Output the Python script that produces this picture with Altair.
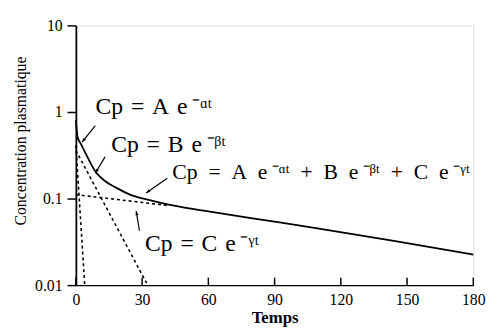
import altair as alt
import pandas as pd

# Total plasma concentration curve
total_t = [0, 0.8, 2.2, 5.2, 8.9, 12.6, 18.6, 24.5, 33.4, 42, 50, 60, 80, 108, 144, 180]
total_v = [0.80, 0.51, 0.43, 0.303, 0.204, 0.164, 0.132, 0.111, 0.0957, 0.085, 0.078, 0.071, 0.059, 0.046, 0.0325, 0.0225]

# Components (straight lines on log scale)
a_t = [0, 4.0]
a_v = [0.41, 0.01]
b_t = [0, 32.5]
b_v = [0.36, 0.01]
c_t = [0, 42]
c_v = [0.111, 0.083]

# Annotation labels
S = "\u2002"   # en space
M = "\u2004"   # three-per-em space
T = "\u2009"   # thin space
label_text = [
    f"Cp{M}={M}A{M}e{T}⁻ᵅᵗ",
    f"Cp{M}={M}B{M}e{T}⁻ᵝᵗ",
    f"Cp{S}={S}A{S}e{T}⁻ᵅᵗ{S}+{S}B{S}e{T}⁻ᵝᵗ{S}+{S}C{S}e{T}⁻ᵞᵗ",
    f"Cp{M}={M}C{M}e{T}⁻ᵞᵗ",
]
label_size = [24, 24, 22, 24]
label_t = [8.9, 16.0, 43.7, 31.3]
label_v = [0.949, 0.342, 0.1667, 0.025]

# Arrows: start -> end
arrow_t1 = [8.8, 13.2, 41.4, 28.8]
arrow_v1 = [0.694, 0.303, 0.172, 0.0425]
arrow_t2 = [2.8, 8.8, 31.8, 27.3]
arrow_v2 = [0.448, 0.196, 0.116, 0.0718]
arrow_angle = [218.7, 211.0, 235.4, 349.2]

x_ticks = [0, 30, 60, 90, 120, 150, 180]
y_ticks = [0.01, 0.1, 1, 10]

FONT = "Liberation Serif"

xs = alt.Scale(domain=[0, 180], nice=False)
ys = alt.Scale(type="log", domain=[0.01, 10], nice=False)

total_df = pd.DataFrame({"t": total_t, "v": total_v})
comp_df = pd.concat([
    pd.DataFrame({"t": a_t, "v": a_v, "c": "A"}),
    pd.DataFrame({"t": b_t, "v": b_v, "c": "B"}),
    pd.DataFrame({"t": c_t, "v": c_v, "c": "C"}),
])
lab_df = pd.DataFrame({"t": label_t, "v": label_v, "txt": label_text, "fs": label_size})
arr_df = pd.DataFrame({"t1": arrow_t1, "v1": arrow_v1, "t2": arrow_t2, "v2": arrow_v2, "ang": arrow_angle})
tick_df = pd.DataFrame({"t": x_ticks, "lo": 0.01, "hi": 0.0122})

x_enc = alt.X("t:Q", scale=xs, axis=alt.Axis(
    title="Temps", values=x_ticks, ticks=False, labelPadding=7, labelFontSize=16,
    labelFont=FONT, titleFont=FONT, titleFontSize=17, titleFontWeight="bold",
    titlePadding=2, domainColor="black", domainWidth=1.5, labelColor="black",
    titleColor="black", grid=False, labelFlush=False))
y_enc = alt.Y("v:Q", scale=ys, axis=alt.Axis(
    title="Concentration plasmatique", values=y_ticks, tickSize=9, labelPadding=5,
    labelFontSize=16, labelFont=FONT, titleFont=FONT, titleFontSize=16,
    titleFontWeight="normal", labelExpr="datum.value >= 1 ? format(datum.value, 'd') : format(datum.value, '.2~f')",
    domainColor="black", domainWidth=1.8, tickColor="black", tickWidth=1.5,
    labelColor="black", titleColor="black", grid=False, titleX=-56, titleY=117,
    titleAngle=270, titleBaseline="middle", titleAlign="center"))

total_line = alt.Chart(total_df).mark_line(color="black", strokeWidth=1.8, interpolate="monotone").encode(
    x=x_enc, y=y_enc)

comp_lines = alt.Chart(comp_df).mark_line(color="black", strokeWidth=1.6, strokeDash=[3, 3]).encode(
    x=alt.X("t:Q", scale=xs), y=alt.Y("v:Q", scale=ys), detail="c:N")

labels = alt.Chart(lab_df).mark_text(align="left", baseline="alphabetic", font=FONT,
                                     color="black").encode(
    x=alt.X("t:Q", scale=xs), y=alt.Y("v:Q", scale=ys), text="txt:N",
    size=alt.Size("fs:Q", scale=None, legend=None))

arrows = alt.Chart(arr_df).mark_rule(color="black", strokeWidth=1.2).encode(
    x=alt.X("t1:Q", scale=xs), y=alt.Y("v1:Q", scale=ys), x2="t2:Q", y2="v2:Q")

heads = alt.Chart(arr_df).mark_point(shape="M-0.5,1.4L0,0L0.5,1.4Z", filled=True, color="black",
                                     size=40, opacity=1).encode(
    x=alt.X("t2:Q", scale=xs), y=alt.Y("v2:Q", scale=ys),
    angle=alt.Angle("ang:Q", scale=None))

xticks = alt.Chart(tick_df).mark_rule(color="black", strokeWidth=1.5).encode(
    x=alt.X("t:Q", scale=xs), y=alt.Y("lo:Q", scale=ys), y2="hi:Q")

chart = alt.layer(comp_lines, total_line, arrows, heads, labels, xticks).properties(
    width=404, height=264,
    padding={"left": 69, "top": 15, "right": 18, "bottom": 49},
    autosize=alt.AutoSizeParams(type="none"),
).configure_view(stroke=None).configure(background="white")

chart.save("out.html", embed_options={"renderer": "svg", "actions": False})
